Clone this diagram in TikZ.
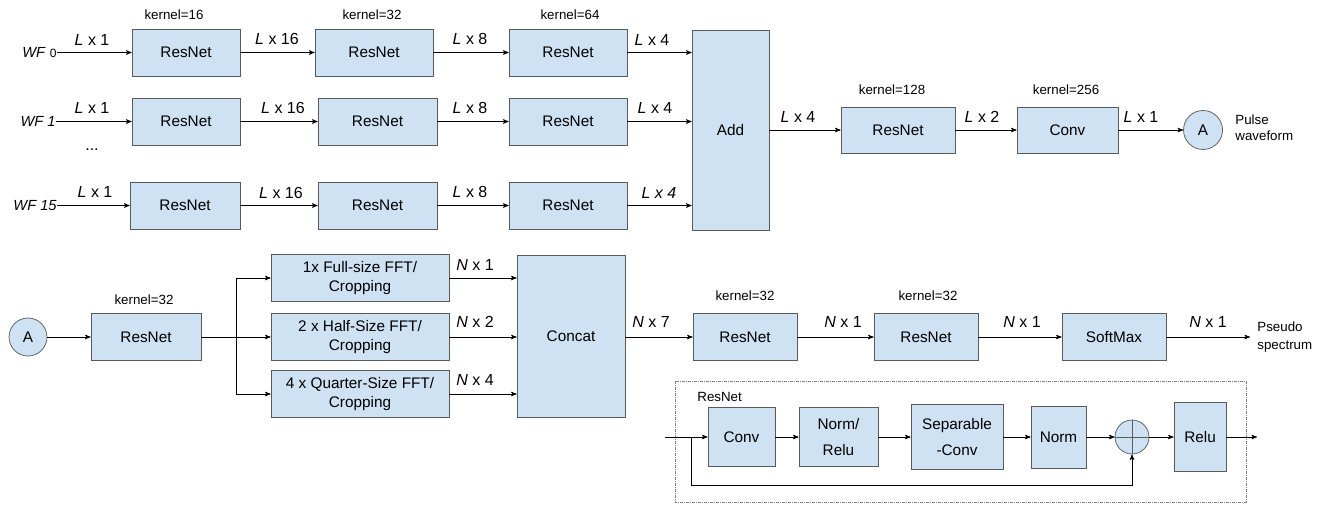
\documentclass[tikz,border=0pt]{standalone}
\usepackage{fontspec}
\setmainfont{Liberation Sans}
\usepackage{tikz}
\usetikzlibrary{arrows}
\definecolor{boxblue}{RGB}{207,226,243}
\definecolor{edgegray}{RGB}{90,90,90}
\newcommand{\Lx}[1]{\textit{L} x #1}
\newcommand{\Nx}[1]{\textit{N} x #1}
\tikzset{
  blk/.style = {draw=edgegray, fill=boxblue, inner sep=0pt, align=center,
    font=\fontsize{11.5}{14}\selectfont},
  sz/.style 2 args = {minimum width=#1*0.75pt, minimum height=#2*0.75pt},
  rnd/.style = {blk, circle, minimum size=#1*0.75pt},% the A connectors
  dimlbl/.style = {inner sep=0pt, font=\fontsize{12}{14}\selectfont},
  kern/.style = {inner sep=0pt, font=\fontsize{10}{12}\selectfont},
  note/.style = {inner sep=0pt, align=left, anchor=west,
    font=\fontsize{10}{12}\selectfont},
  wflbl/.style = {inner sep=0pt, anchor=east, font=\fontsize{11}{13}\selectfont},
  tall/.style = {font=\fontsize{11.5}{19}\selectfont},
  dashbox/.style = {draw=gray, dash pattern=on 2pt off 1pt on 0.5pt off 1pt}
}

\begin{document}
\begin{tikzpicture}[x=0.75pt, y=-0.75pt, ->, >=stealth', line width=0.55pt]
\useasboundingbox (0,0) rectangle (1323,504);

% pulse branch, one row per waveform
\node [wflbl] (wf0) at (57,52.5) {\textit{WF} {\fontsize{9}{11}\selectfont 0}};
\node [wflbl] (wf1) at (56,121.5) {\textit{WF 1}};
\node [wflbl] (wf15) at (57,205.5) {\textit{WF 15}};
\node [dimlbl] (dots) at (92,150) {...};

\node [blk, sz={108}{47}] (r0a) at (186,52.5) {ResNet};
\node [blk, sz={118}{47}] (r0b) at (374,52.5) {ResNet};
\node [blk, sz={118}{47}] (r0c) at (568,52.5) {ResNet};
\node [blk, sz={108}{47}] (r1a) at (186,121.5) {ResNet};
\node [blk, sz={119}{47}] (r1b) at (377.5,121.5) {ResNet};
\node [blk, sz={118}{47}] (r1c) at (568,121.5) {ResNet};
\node [blk, sz={110}{47}] (r2a) at (185,205.5) {ResNet};
\node [blk, sz={119}{47}] (r2b) at (377.5,205.5) {ResNet};
\node [blk, sz={118}{47}] (r2c) at (568,205.5) {ResNet};
\node [blk, sz={77}{200}] (add) at (730.5,130) {Add};
\node [blk, sz={114}{46}] (rn128) at (898,130) {ResNet};
\node [blk, sz={101}{46}] (cv256) at (1067.5,130) {Conv};
\node [rnd=39] (pa) at (1203,130) {A};
\node [note] (pulse) at (1235,128) {Pulse\\waveform};

\node [kern] (k16) at (174,15) {kernel=16};
\node [kern] (k32) at (372,15) {kernel=32};
\node [kern] (k64) at (570,15) {kernel=64};
\node [kern] (k128) at (892,90) {kernel=128};
\node [kern] (k256) at (1066,90) {kernel=256};

\node [dimlbl] (d0a) at (92,40) {\Lx{1}};
\node [dimlbl] (d0b) at (277,39) {\Lx{16}};
\node [dimlbl] (d0c) at (470,39) {\Lx{8}};
\node [dimlbl] (d0d) at (652,40) {\Lx{4}};
\node [dimlbl] (d1a) at (92,108) {\Lx{1}};
\node [dimlbl] (d1b) at (283,108) {\Lx{16}};
\node [dimlbl] (d1c) at (470,108) {\Lx{8}};
\node [dimlbl] (d1d) at (655,108) {\Lx{4}};
\node [dimlbl] (d2a) at (95,192) {\Lx{1}};
\node [dimlbl] (d2b) at (281,193) {\Lx{16}};
\node [dimlbl] (d2c) at (470,192) {\Lx{8}};
\node [dimlbl] (d2d) at (659,193) {\textit{L x 4}};
\node [dimlbl] (dadd) at (798,117) {\Lx{4}};
\node [dimlbl] (d128) at (982,117) {\Lx{2}};
\node [dimlbl] (d256) at (1141,117) {\Lx{1}};

\draw (wf0) -- (r0a);
\draw (r0a) -- (r0b);
\draw (r0b) -- (r0c);
\draw (r0c.east) -- (r0c.east -| add.west);
\draw (wf1) -- (r1a);
\draw (r1a) -- (r1b);
\draw (r1b) -- (r1c);
\draw (r1c.east) -- (r1c.east -| add.west);
\draw (wf15) -- (r2a);
\draw (r2a) -- (r2b);
\draw (r2b) -- (r2c);
\draw (r2c.east) -- (r2c.east -| add.west);
\draw (add) -- (rn128);
\draw (rn128) -- (cv256);
\draw (cv256) -- (pa);

% spectrum branch
\node [rnd=38] (pb) at (28,337) {A};
\node [blk, sz={110}{47}] (rnb) at (146,337) {ResNet};
\coordinate (br) at (236,337);
\node [blk, sz={178}{47}] (ff1) at (360,278) {1x Full-size FFT/\\Cropping};
\node [blk, sz={178}{47}] (ff2) at (360,337) {2 x Half-Size FFT/\\Cropping};
\node [blk, sz={178}{47}] (ff3) at (360,394) {4 x Quarter-Size FFT/\\Cropping};
\node [blk, sz={108}{162}] (cat) at (571,336) {Concat};
\node [blk, sz={104}{47}] (rs1) at (745,337) {ResNet};
\node [blk, sz={104}{47}] (rs2) at (926,337) {ResNet};
\node [blk, sz={104}{47}] (smx) at (1114,337) {SoftMax};
\coordinate (sout) at (1250,337);
\node [note, font=\fontsize{10}{13.5}\selectfont] (pseudo) at (1257,337) {Pseudo\\spectrum};

\node [kern] (kb) at (144,300) {kernel=32};
\node [kern] (ks1) at (745,296) {kernel=32};
\node [kern] (ks2) at (928,296) {kernel=32};
\node [dimlbl] (n1) at (475,265) {\Nx{1}};
\node [dimlbl] (n2) at (475,322) {\Nx{2}};
\node [dimlbl] (n4) at (475,380) {\Nx{4}};
\node [dimlbl] (n7) at (651,322) {\Nx{7}};
\node [dimlbl] (ns1) at (843,322) {\Nx{1}};
\node [dimlbl] (ns2) at (1022,322) {\Nx{1}};
\node [dimlbl] (nsm) at (1208,322) {\Nx{1}};

\draw (pb) -- (rnb);
\draw (rnb) -- (ff2);
\draw (br) |- (ff1.west);
\draw (br) |- (ff3.west);
\draw (ff1.east) -- (ff1.east -| cat.west);
\draw (ff2.east) -- (ff2.east -| cat.west);
\draw (ff3.east) -- (ff3.east -| cat.west);
\draw (cat.east |- rs1) -- (rs1);
\draw (rs1) -- (rs2);
\draw (rs2) -- (smx);
\draw (smx) -- (sout);

% ResNet block detail
\draw [-, dashbox] (675,381) rectangle (1246,502);
\node [note] (rtitle) at (697,397) {ResNet};
\coordinate (iin) at (665,437);
\coordinate (ibr) at (691,437);
\coordinate (iout) at (1257,437);
\node [blk, sz={67}{59}] (ic) at (741.5,437) {Conv};
\node [blk, tall, sz={79}{59}] (inr) at (838.5,437) {Norm/\\Relu};
\node [blk, tall, sz={92}{65}] (isc) at (957,437) {Separable\\-Conv};
\node [blk, sz={55}{62}] (inm) at (1058.5,437) {Norm};
\node [rnd=34, path picture={
    \draw [-] (path picture bounding box.north) -- (path picture bounding box.south)
      (path picture bounding box.west) -- (path picture bounding box.east);}] (isum) at (1132,437) {};
\node [blk, sz={52}{69}] (irl) at (1200,437) {Relu};

\draw (iin) -- (ic);
\draw (ic) -- (inr);
\draw (inr) -- (isc);
\draw (isc) -- (inm);
\draw (inm) -- (isum);
\draw (isum) -- (irl);
\draw (irl) -- (iout);
\draw (ibr) -- ++(0,48) -| (isum.south);
\end{tikzpicture}
\end{document}
